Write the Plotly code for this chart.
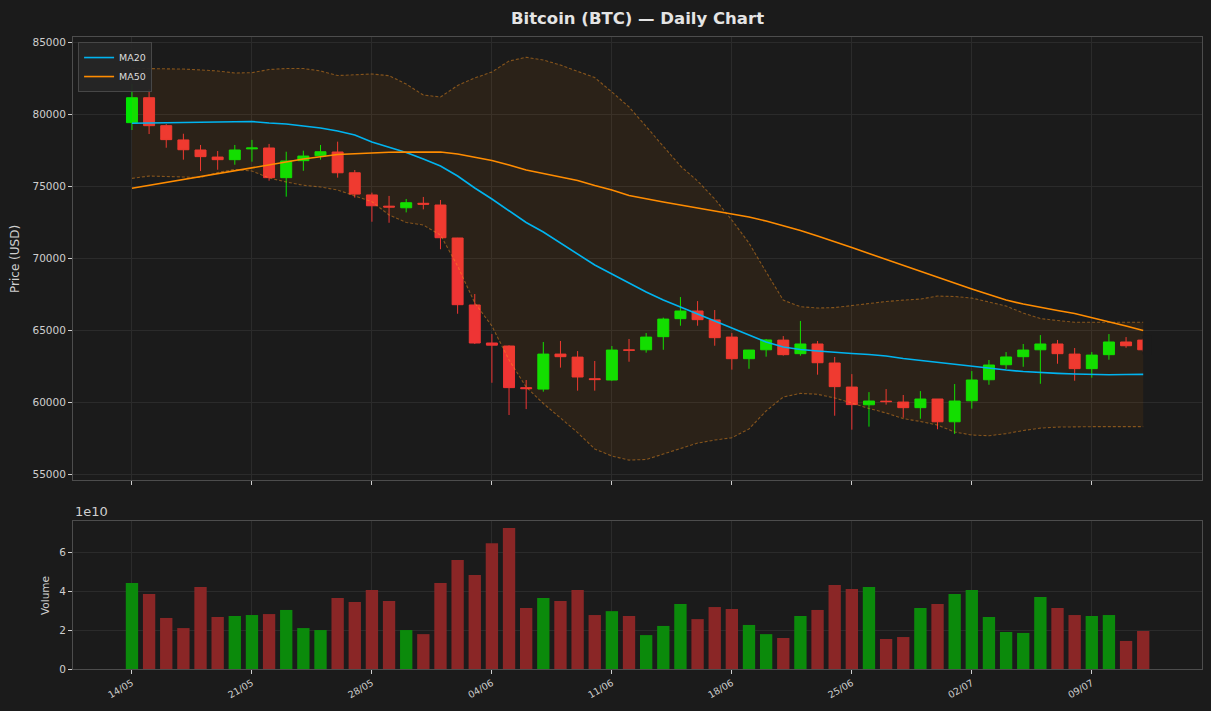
import pandas as pd
import plotly.graph_objects as go

# ---------------- data ----------------
dates = pd.date_range("2024-05-14", periods=60, freq="D")

open_ = [79400, 81130, 79190, 78200, 77500, 77010, 76830, 77580, 77640, 75580,
         76760, 77100, 77360, 75920, 74380, 73600, 73490, 73800, 73680, 71390,
         66740, 64100, 63890, 61000, 60900, 63330, 63120, 61620, 61530, 63620,
         63630, 64540, 65790, 66320, 65700, 64510, 63010, 63630, 64300, 63360,
         64030, 62710, 61040, 59810, 60060, 60000, 59610, 60210, 58630, 60090,
         61550, 62590, 63150, 63630, 64030, 63330, 62320, 63290, 64170, 64300]
high = [82080, 81740, 79300, 78630, 77850, 77430, 77850, 78200, 77920, 77380,
        77450, 77850, 78080, 76110, 74540, 74310, 74100, 74240, 74030, 71400,
        67500, 64720, 63940, 61530, 64170, 64240, 63540, 62850, 63890, 64380,
        64790, 65860, 67290, 67010, 66390, 64790, 63620, 64380, 64580, 65630,
        64240, 63130, 61940, 60690, 60900, 60490, 60760, 60210, 61250, 62150,
        62920, 63470, 64030, 64650, 64310, 63750, 63470, 64720, 64510, 64400]
low = [78890, 78610, 77660, 76830, 76040, 76130, 76480, 76690, 75370, 74260,
       76060, 76830, 75580, 74190, 72520, 72450, 73170, 73380, 70610, 66130,
       64030, 61340, 59100, 59510, 60720, 62390, 60790, 60790, 61480, 62800,
       63430, 63630, 65300, 65300, 63910, 62250, 62310, 63150, 63220, 63220,
       61900, 59050, 58080, 58290, 59820, 58910, 58840, 58110, 57780, 59540,
       61200, 62290, 62450, 61270, 62660, 61480, 61690, 62940, 63770, 63500]
close = [81130, 79190, 78220, 77520, 77040, 76830, 77500, 77640, 75580, 76740,
         77080, 77380, 75920, 74440, 73630, 73540, 73840, 73740, 71410, 66760,
         64100, 63950, 61000, 60930, 63330, 63150, 61740, 61560, 63610, 63600,
         64510, 65760, 66320, 65720, 64470, 63010, 63610, 64310, 63290, 64030,
         62730, 61070, 59820, 60070, 60030, 59610, 60210, 58630, 60070, 61530,
         62570, 63130, 63610, 64030, 63360, 62320, 63260, 64170, 63910, 63630]

volume_e10 = [4.41, 3.85, 2.62, 2.10, 4.21, 2.67, 2.72, 2.77, 2.82, 3.03,
              2.10, 2.00, 3.64, 3.44, 4.05, 3.49, 2.00, 1.79, 4.41, 5.59,
              4.82, 6.46, 7.23, 3.13, 3.64, 3.49, 4.05, 2.77, 2.97, 2.72,
              1.74, 2.21, 3.33, 2.56, 3.18, 3.08, 2.26, 1.79, 1.59, 2.72,
              3.03, 4.31, 4.10, 4.21, 1.54, 1.64, 3.13, 3.33, 3.85, 4.05,
              2.67, 1.90, 1.85, 3.69, 3.13, 2.77, 2.72, 2.77, 1.44, 1.95]

ma20 = [79354, 79375, 79375, 79375, 79410, 79445, 79480, 79480, 79375, 79306,
        79167, 79028, 78820, 78542, 78056, 77708, 77326, 76875, 76389, 75695,
        74862, 74097, 73264, 72465, 71806, 71042, 70278, 69514, 68889, 68264,
        67639, 67084, 66598, 66111, 65660, 65139, 64653, 64167, 63820, 63646,
        63542, 63438, 63368, 63299, 63195, 63021, 62882, 62743, 62604, 62465,
        62361, 62222, 62118, 62035, 61993, 61945, 61910, 61896, 61910, 61924]
ma50 = [74841, 75049, 75257, 75466, 75674, 75883, 76091, 76299, 76494, 76688,
        76875, 77028, 77188, 77243, 77313, 77340, 77354, 77361, 77361, 77222,
        77014, 76771, 76458, 76111, 75868, 75625, 75382, 75035, 74722, 74341,
        74097, 73889, 73681, 73473, 73264, 73056, 72847, 72569, 72257, 71910,
        71528, 71146, 70729, 70312, 69896, 69514, 69097, 68680, 68264, 67847,
        67465, 67083, 66805, 66562, 66354, 66146, 65868, 65590, 65278, 64966]
bb_upper = [83170, 83170, 83160, 83120, 83060, 82990, 82850, 82870, 83090, 83160,
            83160, 82990, 82670, 82740, 82780, 82660, 82080, 81320, 81180, 81980,
            82500, 82920, 83680, 83940, 83750, 83400, 82990, 82530, 81530, 80490,
            79130, 77780, 76390, 75350, 74100, 72640, 71040, 69030, 67080, 66620,
            66530, 66560, 66700, 66880, 66980, 67080, 67150, 67360, 67330, 67220,
            66970, 66670, 66180, 65800, 65660, 65540, 65540, 65540, 65540, 65540]
bb_lower = [75530, 75690, 75660, 75620, 75590, 75940, 76150, 76040, 75560, 75280,
            75050, 74930, 74720, 74310, 73910, 72990, 72470, 72290, 71600, 69440,
            66880, 65280, 62920, 61040, 59900, 58890, 57880, 56740, 56250, 55970,
            56010, 56390, 56770, 57150, 57360, 57520, 58130, 59380, 60350, 60600,
            60540, 60280, 59930, 59550, 59240, 58850, 58650, 58400, 57920, 57710,
            57660, 57810, 58020, 58190, 58260, 58290, 58290, 58290, 58290, 58290]

tick_dates = ["2024-05-14", "2024-05-21", "2024-05-28", "2024-06-04", "2024-06-11",
              "2024-06-18", "2024-06-25", "2024-07-02", "2024-07-09"]
tick_labels = ["14/05", "21/05", "28/05", "04/06", "11/06",
               "18/06", "25/06", "02/07", "09/07"]
price_ticks = [55000, 60000, 65000, 70000, 75000, 80000, 85000]
volume_ticks = [0, 2, 4, 6]

# ---------------- style ----------------
BG = "#1b1b1b"
GRID = "#2b2b2b"
FRAME = "#4d4d4d"
TXT = "#cfcfcf"
UP = "#00e600"
DOWN = "#ee3434"
VOL_UP = "#0b8a0b"
VOL_DOWN = "#8a2626"
FONT = "DejaVu Sans"

fig = go.Figure()

# Bollinger band fill + dashed borders
fig.add_trace(go.Scatter(x=dates, y=bb_upper, mode="lines",
                         line=dict(color="rgba(255,150,30,0.45)", width=1.1, dash="3px,2px"),
                         showlegend=False, hoverinfo="skip"))
fig.add_trace(go.Scatter(x=dates, y=bb_lower, mode="lines", fill="tonexty",
                         fillcolor="rgba(255,140,0,0.075)",
                         line=dict(color="rgba(255,150,30,0.45)", width=1.1, dash="3px,2px"),
                         showlegend=False, hoverinfo="skip"))

fig.add_trace(go.Candlestick(
    x=dates, open=open_, high=high, low=low, close=close,
    increasing=dict(line=dict(color=UP, width=1), fillcolor=UP),
    decreasing=dict(line=dict(color=DOWN, width=1), fillcolor=DOWN),
    whiskerwidth=0, showlegend=False, xaxis="x", yaxis="y"))

fig.add_trace(go.Scatter(x=dates, y=ma20, mode="lines", name="MA20",
                         line=dict(color="#00b4f0", width=1.6)))
fig.add_trace(go.Scatter(x=dates, y=ma50, mode="lines", name="MA50",
                         line=dict(color="#ff8c00", width=1.6)))

vol_colors = [VOL_UP if c >= o else VOL_DOWN for o, c in zip(open_, close)]
fig.add_trace(go.Bar(x=dates, y=volume_e10, marker=dict(color=vol_colors, line=dict(width=0)),
                     showlegend=False, xaxis="x2", yaxis="y2"))

x_range = [dates[0] - pd.Timedelta(days=3.44), dates[0] + pd.Timedelta(days=62.43)]

axis_common = dict(showline=True, linecolor=FRAME, linewidth=1, mirror=True,
                   gridcolor=GRID, gridwidth=1, zeroline=False,
                   ticks="outside", ticklen=4, tickcolor=TXT, tickwidth=1,
                   tickfont=dict(family=FONT, size=10.5, color=TXT))

# hide the right half of the final candle (clipped in the reference)
last = dates[-1]
fig.add_shape(type="rect", xref="x", yref="y",
              x0=last - pd.Timedelta(hours=0.8), x1=last + pd.Timedelta(hours=12),
              y0=min(low[-1], close[-1]) - 200, y1=max(high[-1], open_[-1]) + 200,
              fillcolor=BG, line=dict(width=0), layer="above")

fig.update_layout(
    width=1211, height=711,
    paper_bgcolor=BG, plot_bgcolor=BG,
    margin=dict(l=73, r=9, t=37, b=42),
    font=dict(family=FONT, color=TXT),
    boxgap=0.36, boxgroupgap=0, bargap=0.28,
    title=dict(text="<b>Bitcoin (BTC) — Daily Chart</b>", x=0.5, xref="paper",
               y=1 - 18 / 711, yanchor="middle",
               font=dict(family=FONT, size=16.5, color="#e4e4e4")),
    xaxis=dict(axis_common, domain=[0, 1], anchor="y", type="date", range=x_range,
               tickvals=tick_dates, ticktext=tick_labels, showticklabels=False,
               rangeslider=dict(visible=False)),
    yaxis=dict(axis_common, domain=[0.299, 1], anchor="x",
               range=[54585, 85347], tickvals=price_ticks, tickformat="d"),
    xaxis2=dict(axis_common, domain=[0, 1], anchor="y2", type="date", range=x_range,
                matches="x", tickvals=tick_dates, ticktext=tick_labels, tickangle=-30,
                tickfont=dict(family=FONT, size=9.5, color=TXT)),
    yaxis2=dict(axis_common, domain=[0, 0.234], anchor="x2",
                range=[0, 7.59], tickvals=volume_ticks),
    legend=dict(x=0.0045, y=0.992, xanchor="left", yanchor="top",
                traceorder="normal",
                bgcolor="rgba(38,38,38,0.95)", bordercolor="#474747", borderwidth=1,
                font=dict(family=FONT, size=9.5, color="#dddddd"),
                itemwidth=30, tracegroupgap=0),
    showlegend=True,
    annotations=[
        dict(text="Price (USD)", xref="paper", yref="paper", x=(15 - 73) / 1129,
             y=(669 - 259) / 632, textangle=-90, showarrow=False,
             xanchor="center", yanchor="middle",
             font=dict(family=FONT, size=12, color=TXT)),
        dict(text="Volume", xref="paper", yref="paper", x=(45 - 73) / 1129,
             y=(669 - 596) / 632, textangle=-90, showarrow=False,
             xanchor="center", yanchor="middle",
             font=dict(family=FONT, size=10.5, color=TXT)),
        dict(text="1e10", xref="paper", yref="paper", x=0, y=0.234,
             xanchor="left", yanchor="bottom", showarrow=False, yshift=0,
             font=dict(family=FONT, size=13, color=TXT)),
    ],
)

fig.write_html("out.html")
